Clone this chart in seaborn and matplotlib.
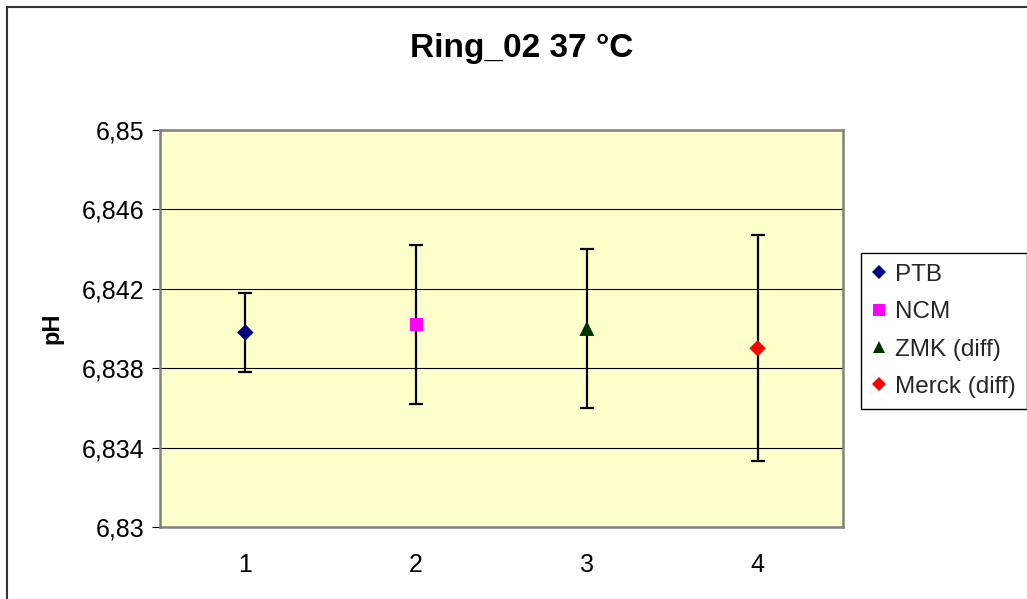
import matplotlib
matplotlib.use("Agg")
import matplotlib.pyplot as plt
import seaborn as sns
import pandas as pd
from matplotlib.patches import Rectangle
from matplotlib.lines import Line2D
from matplotlib.ticker import FixedLocator, FixedFormatter

# ---- data ----
labs = ["PTB", "NCM", "ZMK (diff)", "Merck (diff)"]
xpos = [1, 2, 3, 4]
ph_values = [6.8398, 6.8402, 6.8400, 6.8390]
uncert = [0.0020, 0.0040, 0.0040, 0.0057]
colors = ["#000080", "#FF00FF", "#003300", "#FF0000"]
markers = ["D", "s", "^", "D"]
yticks = [6.83, 6.834, 6.838, 6.842, 6.846, 6.85]
ytick_labels = ["6,83", "6,834", "6,838", "6,842", "6,846", "6,85"]
xtick_labels = ["1", "2", "3", "4"]
title = "Ring_02 37 °C"
ylabel = "pH"

df = pd.DataFrame({"Lab": labs, "x": xpos, "pH": ph_values, "u": uncert})

sns.set_theme(style="white")
plt.rcParams["font.family"] = ["Liberation Sans", "DejaVu Sans"]

W, H = 1027, 599
fig = plt.figure(figsize=(W / 100, H / 100), dpi=100)
fig.patch.set_facecolor("white")

ax = fig.add_axes([160 / W, 1 - 527 / H, (843 - 160) / W, (527 - 130) / H])
ax.set_facecolor("#FFFFCC")

# error bars (behind markers)
ax.errorbar(df["x"], df["pH"], yerr=df["u"], fmt="none", ecolor="black",
            elinewidth=1.6, capsize=4.7, capthick=1.6, zorder=2)

msizes = [70, 90, 115, 70]
for lab, c, m, s in zip(labs, colors, markers, msizes):
    sns.scatterplot(data=df[df["Lab"] == lab], x="x", y="pH", color=c,
                    marker=m, s=s, edgecolor="none", linewidth=0, ax=ax,
                    zorder=3, legend=False)

ax.set_xlim(0.5, 4.5)
ax.set_ylim(6.83, 6.85)
ax.yaxis.set_major_locator(FixedLocator(yticks))
ax.yaxis.set_major_formatter(FixedFormatter(ytick_labels))
ax.set_xticks(xpos)
ax.set_xticklabels(xtick_labels)
ax.grid(axis="y", color="black", linewidth=0.8, zorder=1)
ax.grid(axis="x", visible=False)
ax.set_axisbelow(True)

ax.tick_params(axis="y", which="major", direction="out", length=6, width=0.8,
               color="black", left=True, pad=5, labelsize=18, labelcolor="black")
ax.tick_params(axis="x", which="major", length=0, pad=19, labelsize=18,
               labelcolor="black")

for s in ["left", "right", "top", "bottom"]:
    ax.spines[s].set_visible(True)
    ax.spines[s].set_color("#808080")
    ax.spines[s].set_linewidth(1.8)

ax.set_xlabel("")
ax.set_ylabel(ylabel, fontsize=17, fontweight="bold", color="black")
ax.yaxis.set_label_coords((63 - 160) / (843 - 160), (527 - 328) / (527 - 130))

fig.text(522 / W, 1 - 49 / H, title, ha="center", va="center",
         fontsize=24, fontweight="bold", color="black")

# legend
handles = [Line2D([], [], linestyle="none", marker=m, color=c,
                  markersize=s ** 0.5 * 0.85, markeredgewidth=0)
           for m, c, s in zip(markers, colors, msizes)]
leg = fig.legend(handles, labs, loc="upper left",
                 bbox_to_anchor=(861 / W, 1 - 253 / H),
                 bbox_transform=fig.transFigure, borderaxespad=0,
                 frameon=True, fancybox=False, shadow=False, framealpha=1,
                 edgecolor="black", fontsize=17.5, handlelength=0.6,
                 handletextpad=0.35, labelspacing=0.63, borderpad=0.45)
leg.get_frame().set_linewidth(1.0)

# chart-area outline (top and left edges visible)
fig.add_artist(Rectangle((7 / W, -0.05), 1.1, 1 - 7 / H + 0.05,
                         transform=fig.transFigure, fill=False,
                         edgecolor="#333333", linewidth=1.5))

fig.savefig("out.png", dpi=100)
